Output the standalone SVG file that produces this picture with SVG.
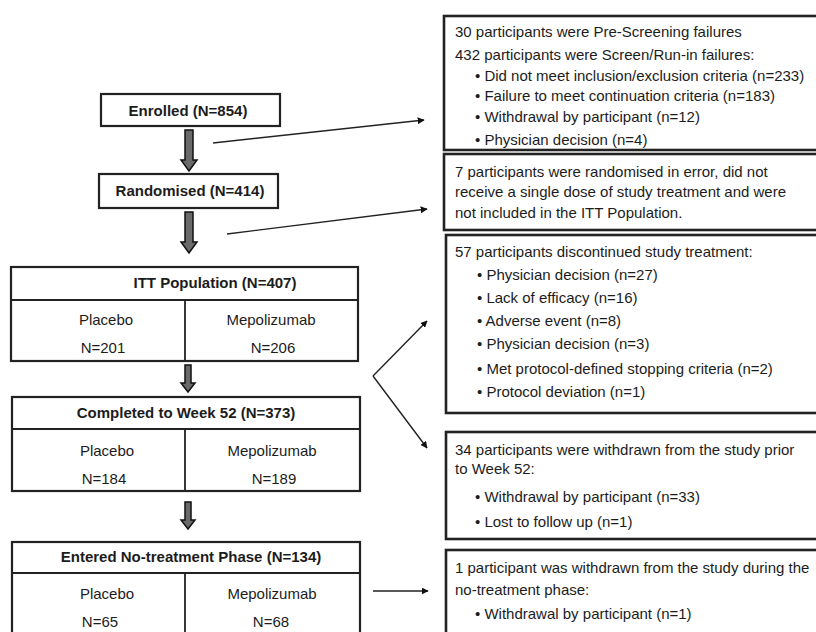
<svg xmlns="http://www.w3.org/2000/svg" width="816" height="632" viewBox="0 0 816 632">
<style>
.box{fill:#fff;stroke:#222;stroke-width:2.2}
.rbox{fill:#fff;stroke:#222;stroke-width:2.6}
.div{stroke:#222;stroke-width:1.8;fill:none}
.t{font-family:"Liberation Sans",Arial,sans-serif;font-size:15px;fill:#1c1c1c}
.tb{font-family:"Liberation Sans",Arial,sans-serif;font-size:15px;font-weight:bold;fill:#1c1c1c}
.c{text-anchor:middle}
.ln{stroke:#222;stroke-width:1.4;fill:none;marker-end:url(#ah)}
.ha{fill:#6a6a6a;stroke:#111;stroke-width:1.5;stroke-linejoin:miter}
</style>
<defs>
<marker id="ah" viewBox="0 0 10 10" refX="9" refY="5" markerWidth="7" markerHeight="7" markerUnits="userSpaceOnUse" orient="auto">
<path d="M0,0 L10,5 L0,10 z" fill="#111"/>
</marker>
</defs>
<rect width="816" height="632" fill="#fff"/>

<g id="enrolled">
<rect class="box" x="101" y="94" width="179" height="32"/>
<text class="tb c" x="188" y="116">Enrolled (N=854)</text>
</g>
<g id="randomised">
<rect class="box" x="99" y="174" width="179" height="34"/>
<text class="tb c" x="190" y="196">Randomised (N=414)</text>
</g>
<g id="itt">
<rect class="box" x="11" y="267" width="347" height="94"/>
<line class="div" x1="11" y1="300" x2="358" y2="300"/>
<line class="div" x1="185" y1="300" x2="185" y2="361"/>
<text class="tb c" x="215" y="288">ITT Population (N=407)</text>
<text class="t c" x="106" y="325">Placebo</text>
<text class="t c" x="103" y="353">N=201</text>
<text class="t c" x="271" y="325">Mepolizumab</text>
<text class="t c" x="273" y="353">N=206</text>
</g>
<g id="completed">
<rect class="box" x="12" y="397" width="348" height="94"/>
<line class="div" x1="12" y1="429" x2="360" y2="429"/>
<line class="div" x1="185" y1="429" x2="185" y2="491"/>
<text class="tb c" x="186" y="418">Completed to Week 52 (N=373)</text>
<text class="t c" x="107" y="456">Placebo</text>
<text class="t c" x="104" y="484">N=184</text>
<text class="t c" x="272" y="456">Mepolizumab</text>
<text class="t c" x="274" y="484">N=189</text>
</g>
<g id="entered">
<rect class="box" x="12" y="542" width="348" height="100"/>
<line class="div" x1="12" y1="573" x2="360" y2="573"/>
<line class="div" x1="185" y1="573" x2="185" y2="640"/>
<text class="tb c" x="191" y="562">Entered No-treatment Phase (N=134)</text>
<text class="t c" x="107" y="599">Placebo</text>
<text class="t c" x="100" y="627">N=65</text>
<text class="t c" x="272" y="599">Mepolizumab</text>
<text class="t c" x="271" y="627">N=68</text>
</g>

<g id="screen-fail">
<rect class="rbox" x="444" y="16" width="380" height="134"/>
<text class="t" x="455" y="37">30 participants were Pre-Screening failures</text>
<text class="t" x="455" y="60">432 participants were Screen/Run-in failures:</text>
<text class="t" x="475" y="81">• Did not meet inclusion/exclusion criteria (n=233)</text>
<text class="t" x="475" y="101">• Failure to meet continuation criteria (n=183)</text>
<text class="t" x="475" y="122">• Withdrawal by participant (n=12)</text>
<text class="t" x="475" y="145">• Physician decision (n=4)</text>
</g>
<g id="rand-error">
<rect class="rbox" x="444" y="154" width="380" height="76"/>
<text class="t" x="455" y="177">7 participants were randomised in error, did not</text>
<text class="t" x="455" y="197">receive a single dose of study treatment and were</text>
<text class="t" x="455" y="218">not included in the ITT Population.</text>
</g>
<g id="discontinued">
<rect class="rbox" x="446" y="235" width="380" height="178"/>
<text class="t" x="455" y="257">57 participants discontinued study treatment:</text>
<text class="t" x="477" y="280">• Physician decision (n=27)</text>
<text class="t" x="477" y="303">• Lack of efficacy (n=16)</text>
<text class="t" x="477" y="326">• Adverse event (n=8)</text>
<text class="t" x="477" y="349">• Physician decision (n=3)</text>
<text class="t" x="477" y="374">• Met protocol-defined stopping criteria (n=2)</text>
<text class="t" x="477" y="397">• Protocol deviation (n=1)</text>
</g>
<g id="withdrawn">
<rect class="rbox" x="446" y="432" width="380" height="107"/>
<text class="t" x="455" y="455">34 participants were withdrawn from the study prior</text>
<text class="t" x="455" y="474">to Week 52:</text>
<text class="t" x="475" y="502">• Withdrawal by participant (n=33)</text>
<text class="t" x="475" y="527">• Lost to follow up (n=1)</text>
</g>
<g id="no-treatment-withdrawn">
<rect class="rbox" x="446" y="550" width="380" height="100"/>
<text class="t" x="455" y="573">1 participant was withdrawn from the study during the</text>
<text class="t" x="455" y="595">no-treatment phase:</text>
<text class="t" x="475" y="619">• Withdrawal by participant (n=1)</text>
</g>

<g id="connectors">
<path class="ha" d="M185,130 H193 V160 H197 L189,171 L181,160 H185 Z"/>
<path class="ha" d="M185,212 H193 V242 H197 L189,253 L181,242 H185 Z"/>
<path class="ha" d="M185,365 H191 V383 H195 L188,392 L181,383 H185 Z"/>
<path class="ha" d="M185,502 H191 V520 H195 L188,529 L181,520 H185 Z"/>
<line class="ln" x1="213" y1="143" x2="424" y2="120"/>
<line class="ln" x1="227" y1="234" x2="427" y2="209"/>
<polyline class="ln" points="373,376 427,321"/>
<polyline class="ln" points="373,376 427,448"/>
<line class="ln" x1="373" y1="591" x2="428" y2="591"/>
</g>
</svg>
